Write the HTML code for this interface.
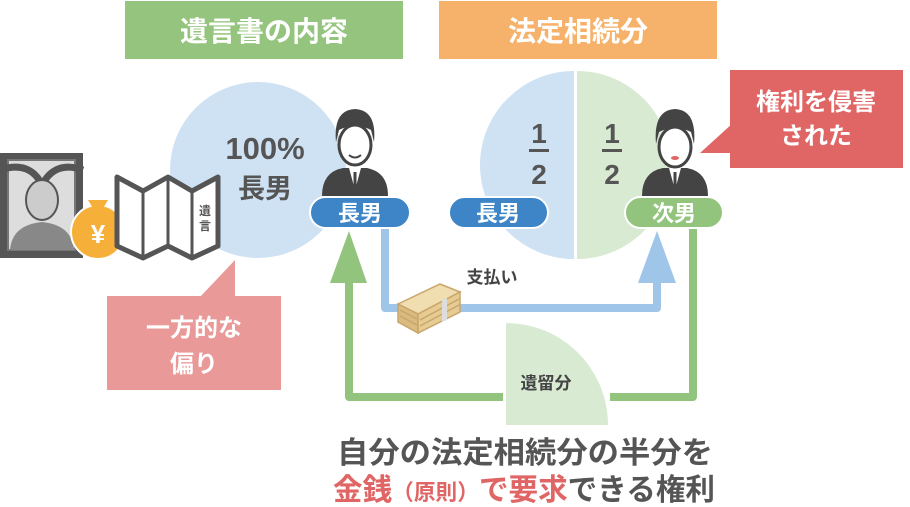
<!DOCTYPE html>
<html><head><meta charset="utf-8"><style>
html,body{margin:0;padding:0;background:#fff;width:910px;height:507px;overflow:hidden}
svg{display:block}
text{font-family:"Liberation Sans","Noto Sans CJK JP",sans-serif;font-weight:bold}
</style></head><body>
<svg width="910" height="507" viewBox="0 0 910 507" xmlns="http://www.w3.org/2000/svg">
<rect x="125" y="1" width="278" height="58" fill="#95c47e"/>
<text x="264" y="41" font-size="28" fill="#fff" text-anchor="middle">遺言書の内容</text>
<rect x="439" y="1" width="278" height="58" fill="#f6b26b"/>
<text x="578" y="41" font-size="28" fill="#fff" text-anchor="middle">法定相続分</text>

<circle cx="258" cy="170" r="88" fill="#cfe2f3"/>
<text x="265" y="159" font-size="31" fill="#555" text-anchor="middle">100%</text>
<text x="265" y="198" font-size="27" fill="#555" text-anchor="middle">長男</text>

<polygon points="200,297 235,260 235,297" fill="#ea9999"/>
<rect x="107" y="296" width="174" height="94" fill="#ea9999"/>
<text x="194" y="336" font-size="24" fill="#fff" text-anchor="middle">一方的な</text>
<text x="194" y="372" font-size="24" fill="#fff" text-anchor="middle">偏り</text>

<rect x="0" y="153" width="83" height="105" fill="#555"/>
<rect x="8" y="160" width="67" height="90" fill="#ddd" stroke="#777" stroke-width="2"/>
<path d="M0,170 Q30,160 42,185 Q55,160 83,170" stroke="#555" stroke-width="7" fill="none"/>
<path d="M10,250 Q12,225 42,222 Q72,225 74,250Z" fill="#888"/>
<ellipse cx="42" cy="200" rx="16" ry="20" fill="#ccc" stroke="#555" stroke-width="2"/>
<circle cx="98" cy="232" r="27" fill="#f6b03a" stroke="#fff" stroke-width="2"/>
<path d="M88,200 L108,200 L102,210 L94,210Z" fill="#f6b03a"/>
<text x="98" y="243" font-size="26" fill="#fff" text-anchor="middle">¥</text>
<polygon points="117,177 143,191 168,177 192,191 218,177 218,246 192,258 168,246 143,258 117,246" fill="#fff" stroke="#555" stroke-width="5" stroke-linejoin="round"/>
<line x1="143" y1="191" x2="143" y2="258" stroke="#555" stroke-width="3"/>
<line x1="168" y1="177" x2="168" y2="246" stroke="#555" stroke-width="3"/>
<line x1="192" y1="191" x2="192" y2="258" stroke="#555" stroke-width="3"/>
<text x="205" y="215" font-size="12" fill="#555" text-anchor="middle">遺</text>
<text x="205" y="230" font-size="12" fill="#555" text-anchor="middle">言</text>

<path d="M574,71 A94,94 0 0 0 574,259Z" fill="#cfe2f3"/>
<path d="M577,71 A94,94 0 0 1 577,259Z" fill="#d9ead3"/>
<text x="539" y="143" font-size="28" fill="#555" text-anchor="middle">1</text>
<rect x="529" y="149" width="20" height="3" fill="#555"/>
<text x="539" y="184" font-size="28" fill="#555" text-anchor="middle">2</text>
<text x="612" y="143" font-size="28" fill="#555" text-anchor="middle">1</text>
<rect x="602" y="149" width="20" height="3" fill="#555"/>
<text x="612" y="184" font-size="28" fill="#555" text-anchor="middle">2</text>

<polygon points="700,153 733,123 733,153" fill="#e06666"/>
<rect x="730" y="70" width="173" height="98" fill="#e06666"/>
<text x="816" y="110" font-size="24" fill="#fff" text-anchor="middle">権利を侵害</text>
<text x="816" y="144" font-size="24" fill="#fff" text-anchor="middle">された</text>

<polyline points="385,228 385,308 657,308 657,275" fill="none" stroke="#9fc5e8" stroke-width="8" stroke-linejoin="round"/>
<polygon points="657,231 638,283 676,283" fill="#9fc5e8"/>
<path d="M506,425 L506,323 A102,102 0 0 1 608,425Z" fill="#d9ead3"/>
<polyline points="693,228 693,397 610,397" fill="none" stroke="#93c47d" stroke-width="8" stroke-linejoin="round"/>
<polyline points="503,397 349,397 349,275" fill="none" stroke="#93c47d" stroke-width="8" stroke-linejoin="round"/>
<polygon points="349,231 330,283 367,283" fill="#93c47d"/>
<text x="546" y="389" font-size="17" fill="#444" text-anchor="middle">遺留分</text>
<text x="492" y="283" font-size="17" fill="#444" text-anchor="middle">支払い</text>

<g stroke="#c9a56a" stroke-width="1.5">
<polygon points="398,304 440,284 460,292 418,314" fill="#f0ddb0"/>
<polygon points="398,304 418,314 418,333 398,322" fill="#d9bb80"/>
<polygon points="418,314 460,292 460,312 418,333" fill="#e6cc92"/>
<line x1="400" y1="310" x2="417" y2="319" />
<line x1="400" y1="316" x2="417" y2="325" />
<line x1="420" y1="320" x2="459" y2="299" />
<line x1="420" y1="326" x2="459" y2="305" />
<polygon points="442,300 447,298 447,320 442,322" fill="#ddd" stroke="none"/>
</g>

<g transform="translate(355,0)">
<path d="M-33,196 Q-33,172 -12,168 L12,168 Q33,172 33,196Z" fill="#444"/>
<polygon points="-6,168 6,168 0,190" fill="#fff"/>
<line x1="0" y1="172" x2="0" y2="190" stroke="#444" stroke-width="3"/>
<ellipse cx="0" cy="145" rx="16" ry="20" fill="#fff" stroke="#444" stroke-width="3"/>
<path d="M-19,142 Q-22,110 0,109 Q22,110 19,142 L16,130 Q0,122 -16,130Z" fill="#444"/>
<path d="M-6,155 Q0,160 6,155" stroke="#444" stroke-width="2" fill="none"/>
</g>
<g transform="translate(675,0)">
<path d="M-33,196 Q-33,172 -12,168 L12,168 Q33,172 33,196Z" fill="#444"/>
<polygon points="-6,168 6,168 0,190" fill="#fff"/>
<line x1="0" y1="172" x2="0" y2="190" stroke="#444" stroke-width="3"/>
<ellipse cx="0" cy="147" rx="16" ry="20" fill="#fff" stroke="#444" stroke-width="3"/>
<path d="M-19,144 Q-22,110 0,109 Q22,110 19,144 L16,132 Q0,124 -16,132Z" fill="#444"/>
<ellipse cx="0" cy="158" rx="4" ry="2" fill="#e06666"/>
</g>

<rect x="310" y="197" width="100" height="31" rx="15.5" fill="#3d85c6" stroke="#fff" stroke-width="2"/>
<text x="360" y="221" font-size="22" fill="#fff" text-anchor="middle">長男</text>
<rect x="449" y="197" width="99" height="31" rx="15.5" fill="#3d85c6" stroke="#fff" stroke-width="2"/>
<text x="498" y="221" font-size="22" fill="#fff" text-anchor="middle">長男</text>
<rect x="625" y="197" width="98" height="31" rx="15.5" fill="#93c47d" stroke="#fff" stroke-width="2"/>
<text x="674" y="221" font-size="22" fill="#fff" text-anchor="middle">次男</text>

<text x="525" y="463" font-size="30" fill="#555" text-anchor="middle" textLength="376" lengthAdjust="spacingAndGlyphs">自分の法定相続分の半分を</text>
<text x="524" y="500" font-size="30" fill="#555" text-anchor="middle" textLength="382" lengthAdjust="spacingAndGlyphs"><tspan fill="#e06666">金銭</tspan><tspan fill="#e06666" font-size="22">（原則）</tspan><tspan fill="#e06666">で要求</tspan>できる権利</text>
</svg>
</body></html>
